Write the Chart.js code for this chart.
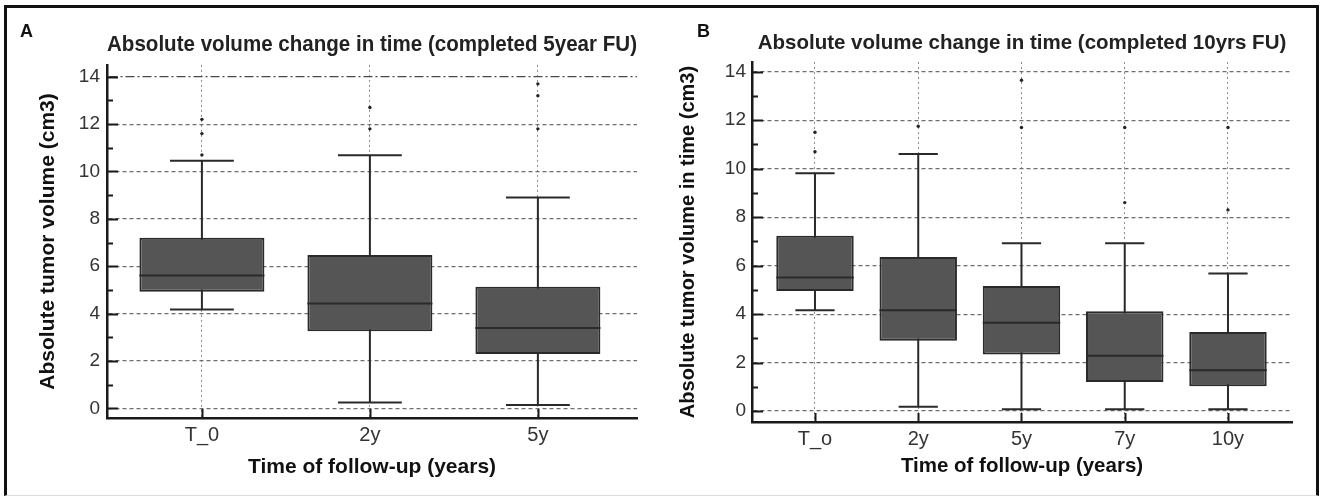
<!DOCTYPE html>
<html>
<head>
<meta charset="utf-8">
<script src="https://cdn.jsdelivr.net/npm/chart.js@4.4.1/dist/chart.umd.min.js"></script>
<style>
  html, body { margin: 0; padding: 0; background: #fff; }
  body { position: relative; width: 1324px; height: 496px; overflow: hidden; font-family: "Liberation Sans", Arial, sans-serif; }
  canvas { position: absolute; top: 0; }
  #chartA { left: 0; }
  #chartB { left: 660px; }
  .frame {
    position: absolute; left: 4px; top: 5px; width: 1315px; height: 491px; box-sizing: border-box;
    border: 3px solid #111; border-bottom: 1px solid #ddd; pointer-events: none;
  }
  .panel { position: absolute; top: 22px; font-weight: bold; font-size: 18px; line-height: 18px; color: #111; }
</style>
</head>
<body>
<canvas id="chartA" width="660" height="496"></canvas>
<canvas id="chartB" width="664" height="496"></canvas>
<div class="frame"></div>
<div class="panel" style="left:20px">A</div>
<div class="panel" style="left:697px">B</div>

<script>
/* -----------------------------
   DATOS
----------------------------- */
const yTicks = [0, 2, 4, 6, 8, 10, 12, 14];
const yMinorTicks = [1, 3, 5, 7, 9, 11, 13];

// Panel A - completed 5 year FU
const catsA = ["T_0", "2y", "5y"];
const lowA = [4.17, 0.24, 0.14];
const q1A = [4.92, 3.25, 2.29];
const medA = [5.61, 4.42, 3.39];
const q3A = [7.2, 6.47, 5.13];
const highA = [10.45, 10.69, 8.9];
const outA = [[10.7, 11.6, 12.2], [11.8, 12.7], [11.8, 13.2, 13.7]];

// Panel B - completed 10 years FU
const catsB = ["T_o", "2y", "5y", "7y", "10y"];
const lowB = [4.16, 0.18, 0.08, 0.08, 0.08];
const q1B = [4.95, 2.9, 2.33, 1.2, 1.02];
const medB = [5.51, 4.16, 3.64, 2.28, 1.68];
const q3B = [7.23, 6.36, 5.16, 4.12, 3.26];
const highB = [9.81, 10.6, 6.92, 6.92, 5.68];
const outB = [[10.7, 11.5], [11.75], [11.7, 13.65], [8.6, 11.7], [8.3, 11.7]];

/* -----------------------------
   ESTILO
----------------------------- */
Chart.defaults.font.family = '"Liberation Sans", Arial, sans-serif';
Chart.defaults.color = "#333";

const INK = "#2a2a2a";
const BOX_FILL = "#555555";
const CAP = 0.19;      // media anchura del bigote (unidades de categoria)

// ticks hacia dentro del area del grafico
const innerTicks = {
    id: "innerTicks",
    afterDraw(chart, args, opts) {
        const { ctx, chartArea } = chart;
        const xs = chart.scales.x;
        const ys = chart.scales.y;
        ctx.save();
        ctx.strokeStyle = "#1a1a1a";
        ctx.lineWidth = 2;
        ctx.beginPath();
        opts.major.forEach(v => {
            const py = Math.round(ys.getPixelForValue(v)) + 0.5;
            ctx.moveTo(chartArea.left, py);
            ctx.lineTo(chartArea.left + 11, py);
        });
        opts.minor.forEach(v => {
            const py = Math.round(ys.getPixelForValue(v)) + 0.5;
            ctx.moveTo(chartArea.left, py);
            ctx.lineTo(chartArea.left + 6, py);
        });
        xs.ticks.forEach(t => {
            const px = Math.round(xs.getPixelForValue(t.value)) + 0.5;
            ctx.moveTo(px, chartArea.bottom);
            ctx.lineTo(px, chartArea.bottom - 9);
        });
        ctx.stroke();
        ctx.restore();
    }
};

function crearBoxplot(canvasId, p) {
    const n = p.cats.length;
    const boxes = p.cats.map((c, i) => ({ x: i + 1, y: [p.q1[i], p.q3[i]] }));

    const whiskers = [];
    const caps = [];
    const medians = [];
    const outliers = [];
    for (let i = 0; i < n; i++) {
        const x = i + 1;
        whiskers.push({ x, y: p.low[i] }, { x, y: p.high[i] }, { x, y: null });
        caps.push({ x: x - CAP, y: p.low[i] }, { x: x + CAP, y: p.low[i] }, { x, y: null });
        caps.push({ x: x - CAP, y: p.high[i] }, { x: x + CAP, y: p.high[i] }, { x, y: null });
        medians.push({ x: x - p.half, y: p.med[i] }, { x: x + p.half, y: p.med[i] }, { x, y: null });
        p.out[i].forEach(v => outliers.push({ x, y: v }));
    }

    const lineBase = {
        type: "line",
        borderColor: INK,
        borderWidth: 2,
        pointRadius: 0,
        spanGaps: false,
        tension: 0
    };

    return new Chart(document.getElementById(canvasId), {
        type: "bar",
        data: {
            datasets: [
                { ...lineBase, label: "whiskers", data: whiskers, order: 3 },
                { ...lineBase, label: "caps", data: caps, order: 3 },
                {
                    label: "box",
                    data: boxes,
                    backgroundColor: BOX_FILL,
                    borderColor: INK,
                    borderWidth: 2,
                    borderSkipped: false,
                    categoryPercentage: 1,
                    barPercentage: p.half * 2,
                    order: 2
                },
                { ...lineBase, label: "median", data: medians, order: 1 },
                {
                    type: "scatter",
                    label: "outliers",
                    data: outliers,
                    pointRadius: 1.7,
                    pointBackgroundColor: "#222",
                    pointBorderWidth: 0,
                    order: 0
                }
            ]
        },
        options: {
            responsive: false,
            devicePixelRatio: 1,
            animation: false,
            layout: { padding: { left: 0, right: p.padRight, top: 0, bottom: 10 } },
            plugins: {
                legend: { display: false },
                tooltip: { enabled: false },
                title: {
                    display: true,
                    text: p.title,
                    fullSize: false,
                    color: "#222",
                    font: { size: p.titleSize, weight: "bold" },
                    padding: { top: p.titleTop, bottom: p.titleBottom }
                },
                innerTicks: { major: yTicks, minor: yMinorTicks }
            },
            scales: {
                x: {
                    type: "linear",
                    offset: false,
                    bounds: "data",
                    min: p.xMin,
                    max: p.xMax,
                    afterBuildTicks: s => { s.ticks = p.cats.map((c, i) => ({ value: i + 1 })); },
                    afterFit: s => { s.height = p.xAxisHeight; },
                    ticks: {
                        padding: 5,
                        color: "#333",
                        font: { size: 20 },
                        callback: v => p.cats[Math.round(v) - 1]
                    },
                    grid: { offset: false, color: "#8a8a8a", lineWidth: 1, drawTicks: false },
                    border: { display: true, color: "#1a1a1a", width: 2.5, dash: [2, 3] },
                    title: {
                        display: true,
                        text: "Time of follow-up (years)",
                        color: "#111",
                        font: { size: p.xTitleSize, weight: "bold" },
                        padding: { top: 0, bottom: p.xTitlePad }
                    }
                },
                y: {
                    type: "linear",
                    bounds: "data",
                    min: p.yMin,
                    max: p.yMax,
                    afterBuildTicks: s => { s.ticks = yTicks.map(v => ({ value: v })); },
                    afterFit: s => { s.width = p.yAxisWidth; },
                    ticks: {
                        padding: p.yTickPad,
                        color: "#333",
                        font: { size: 19 },
                        callback: v => String(v)
                    },
                    grid: {
                        drawTicks: false,
                        lineWidth: 1.2,
                        color: c => (p.dashDotTop && c.tick && c.tick.value === 14) ? "#4a4a4a" : "#6e6e6e"
                    },
                    border: {
                        display: true,
                        color: "#1a1a1a",
                        width: 2.5,
                        dash: c => (p.dashDotTop && c.tick && c.tick.value === 14) ? [9, 3, 2, 3] : [4, 3]
                    },
                    title: {
                        display: true,
                        text: p.yTitle,
                        color: "#111",
                        font: { size: p.yTitleSize, weight: "bold" },
                        padding: { top: p.yTitlePad, bottom: 0 }
                    }
                }
            }
        },
        plugins: [innerTicks]
    });
}

crearBoxplot("chartA", {
    cats: catsA, low: lowA, q1: q1A, med: medA, q3: q3A, high: highA, out: outA,
    title: "Absolute volume change in time (completed 5year FU)",
    yTitle: "Absolute tumor volume (cm3)",
    titleSize: 21.5, titleTop: 32.1, titleBottom: 7.0,
    xTitleSize: 21, xTitlePad: 5.9, xAxisHeight: 68,
    yTitleSize: 21, yTitlePad: 36, yAxisWidth: 107, yTickPad: 7,
    padRight: 23,
    xMin: 0.435, xMax: 3.59, yMin: -0.41, yMax: 14.5,
    half: 0.372, dashDotTop: true
});

crearBoxplot("chartB", {
    cats: catsB, low: lowB, q1: q1B, med: medB, q3: q3B, high: highB, out: outB,
    title: "Absolute volume change in time (completed 10yrs FU)",
    yTitle: "Absolute tumor volume in time (cm3)",
    titleSize: 20.5, titleTop: 30.7, titleBottom: 6.7,
    xTitleSize: 20.5, xTitlePad: 7.2, xAxisHeight: 64,
    yTitleSize: 20, yTitlePad: 16, yAxisWidth: 92, yTickPad: 6,
    padRight: 32,
    xMin: 0.39, xMax: 5.62, yMin: -0.45, yMax: 14.4,
    half: 0.375, dashDotTop: false
});
</script>
</body>
</html>
